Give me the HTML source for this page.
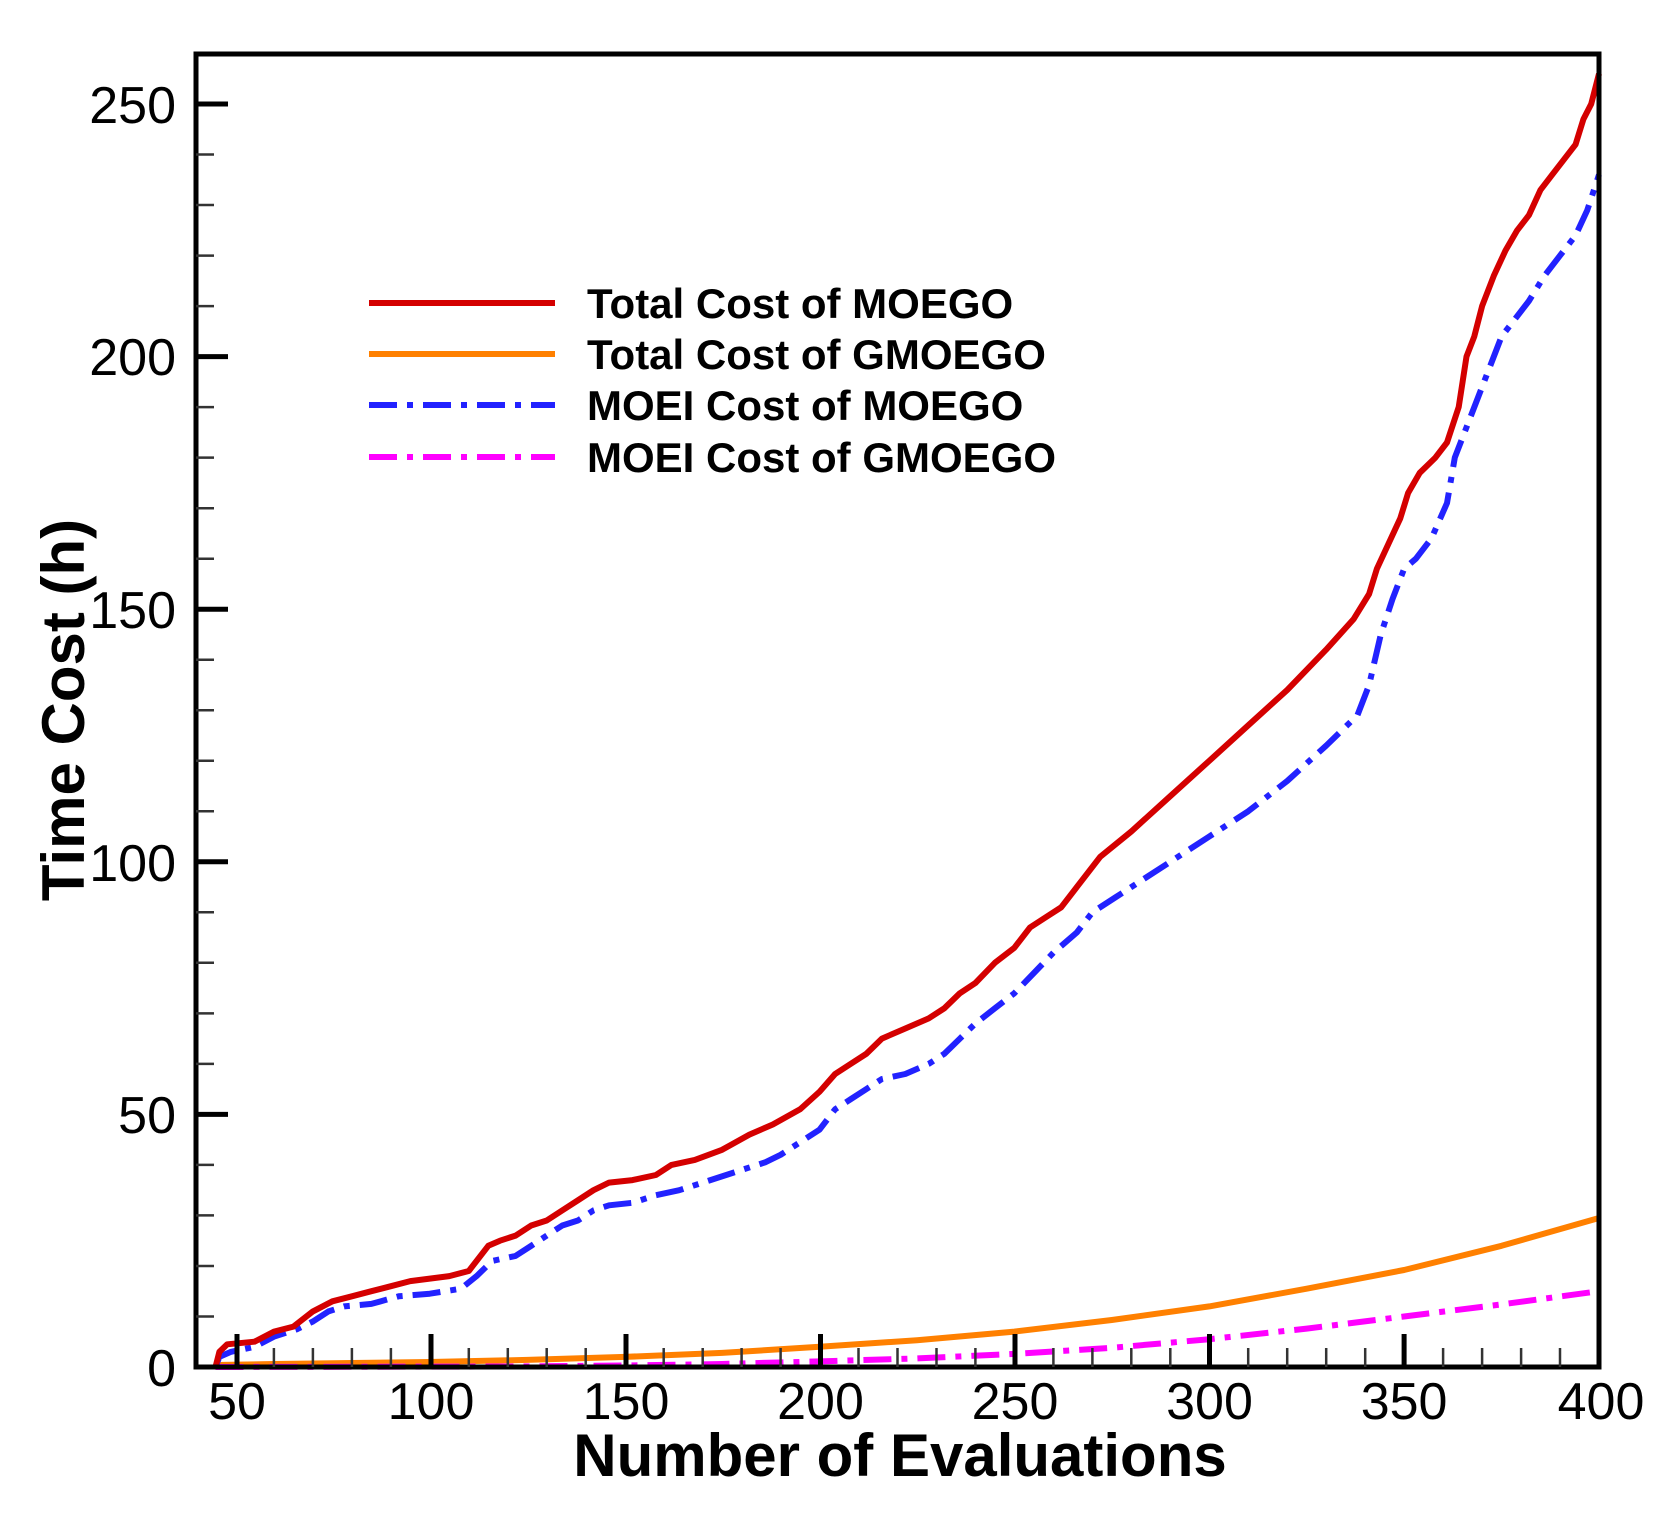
<!DOCTYPE html>
<html><head><meta charset="utf-8"><style>
html,body{margin:0;padding:0;background:#fff}
svg{display:block}
text{font-family:"Liberation Sans",Arial,sans-serif}
</style></head><body>
<svg width="1672" height="1518" viewBox="0 0 1672 1518" xmlns="http://www.w3.org/2000/svg">
<rect width="1672" height="1518" fill="#fff"/>
<g fill="none" stroke-linejoin="round" stroke-width="6">
<path stroke="#ff8000" d="M215.5 1365L273.9 1364L351.9 1363L429.8 1362L527.3 1359.9L624.7 1356.9L722.1 1352.9L819.6 1346.8L917 1340.2L1014.4 1331.6L1111.8 1320L1209.3 1306.4L1306.7 1288.7L1404.1 1270L1501.6 1245.8L1599 1218"/>
<path stroke="#ff00ff" stroke-dasharray="28 10 6 10" d="M215.5 1367L507.8 1366.5L624.7 1365.5L722.1 1364L819.6 1361.4L917 1358.4L1014.4 1353.9L1111.8 1347.8L1209.3 1339.2L1306.7 1328.6L1404.1 1316.5L1501.6 1304.4L1599 1291.2"/>
<path stroke="#2222ff" stroke-dasharray="28 10 6 10" d="M215.5 1367L219.4 1356.9L231.1 1351.8L254.5 1346.8L273.9 1336.7L297.3 1329.1L312.9 1321.5L328.5 1311.4L344.1 1306.4L371.4 1303.9L398.7 1296.3L429.8 1293.7L461 1288.7L476.6 1276.1L492.2 1260.9L515.6 1255.9L531.2 1245.8L546.7 1235.6L562.3 1225.5L577.9 1220.5L593.5 1210.4L609.1 1205.3L632.5 1202.8L655.9 1195.2L679.3 1190.2L710.4 1180.1L741.6 1170L765 1162.4L780.6 1154.8L804 1139.7L819.6 1129.6L835.1 1109.3L850.7 1099.2L866.3 1089.1L881.9 1079L905.3 1074L928.7 1063.9L944.3 1053.8L959.9 1038.6L975.4 1023.5L994.9 1008.3L1014.4 993.2L1033.9 973L1053.4 952.7L1076.8 932.5L1092.4 912.3L1115.7 897.2L1139.1 882L1170.3 861.8L1209.3 836.5L1248.2 811.3L1287.2 781L1326.2 745.6L1357.4 715.3L1369.1 685L1380.8 634.5L1392.5 599.1L1404.1 568.8L1415.9 558.7L1431.4 538.5L1447 503.1L1454.8 457.6L1466.5 427.3L1478.2 397L1489.9 366.7L1501.6 336.4L1517.2 316.2L1528.9 301L1544.4 275.8L1560 255.6L1575.6 235.4L1587.3 210.1L1599 174.7"/>
<path stroke="#d40000" d="M215.5 1367L219.4 1351.8L227.2 1344.3L254.5 1341.7L273.9 1331.6L293.4 1326.6L312.9 1311.4L332.4 1301.3L351.9 1296.3L371.4 1291.2L390.9 1286.2L410.3 1281.1L429.8 1278.6L449.3 1276.1L468.8 1271L488.3 1245.8L500 1240.7L515.6 1235.6L531.2 1225.5L546.7 1220.5L562.3 1210.4L577.9 1200.3L593.5 1190.2L609.1 1182.6L632.5 1180.1L655.9 1175L671.5 1164.9L694.8 1159.9L722.1 1149.8L749.4 1134.6L772.8 1124.5L800.1 1109.3L819.6 1091.7L835.1 1074L850.7 1063.9L866.3 1053.8L881.9 1038.6L905.3 1028.5L928.7 1018.4L944.3 1008.3L959.9 993.2L975.4 983L994.9 962.8L1014.4 947.7L1030 927.5L1045.6 917.4L1061.2 907.3L1076.8 887.1L1100.2 856.8L1131.3 831.5L1170.3 796.1L1209.3 760.8L1248.2 725.4L1287.2 690L1326.2 649.6L1353.5 619.3L1369.1 594L1376.9 568.8L1388.6 543.5L1400.3 518.3L1408.1 493L1419.8 472.8L1435.4 457.6L1447 442.5L1458.7 407.1L1466.5 356.6L1474.3 336.4L1482.1 306.1L1493.8 275.8L1505.5 250.5L1517.2 230.3L1528.9 215.2L1540.5 189.9L1552.2 174.7L1563.9 159.6L1575.6 144.4L1583.4 119.2L1591.2 104L1599 73.7"/>
</g>
<rect x="196" y="54" width="1403" height="1313" fill="none" stroke="#000" stroke-width="5"/>
<path stroke="#000" stroke-width="5" fill="none" d="M196 1114.4H228M196 861.8H228M196 609.2H228M196 356.6H228M196 104H228M237 1367V1334M431 1367V1334M626 1367V1334M820.5 1367V1334M1015 1367V1334M1209.5 1367V1334M1404.1 1367V1334"/>
<path stroke="#333" stroke-width="2.5" fill="none" d="M196 1316.5h18M196 1266h18M196 1215.4h18M196 1164.9h18M196 1063.9h18M196 1013.4h18M196 962.8h18M196 912.3h18M196 811.3h18M196 760.8h18M196 710.2h18M196 659.7h18M196 558.7h18M196 508.2h18M196 457.6h18M196 407.1h18M196 306.1h18M196 255.6h18M196 205h18M196 154.5h18M273.9 1367v-19M312.9 1367v-19M351.9 1367v-19M390.9 1367v-19M468.8 1367v-19M507.8 1367v-19M546.7 1367v-19M585.7 1367v-19M663.7 1367v-19M702.7 1367v-19M741.6 1367v-19M780.6 1367v-19M858.5 1367v-19M897.5 1367v-19M936.5 1367v-19M975.4 1367v-19M1053.4 1367v-19M1092.4 1367v-19M1131.3 1367v-19M1170.3 1367v-19M1248.2 1367v-19M1287.2 1367v-19M1326.2 1367v-19M1365.2 1367v-19M1443.1 1367v-19M1482.1 1367v-19M1521.1 1367v-19M1560 1367v-19"/>
<g font-size="52" text-anchor="end" fill="#000">
<text x="176" y="1386">0</text><text x="176" y="1133">50</text><text x="176" y="881">100</text><text x="176" y="628">150</text><text x="176" y="375">200</text><text x="176" y="123">250</text>
</g>
<g font-size="52" text-anchor="middle" fill="#000">
<text x="237" y="1419">50</text><text x="431" y="1419">100</text><text x="626" y="1419">150</text><text x="820.5" y="1419">200</text><text x="1015" y="1419">250</text><text x="1209.5" y="1419">300</text><text x="1404.1" y="1419">350</text><text x="1601" y="1419">400</text>
</g>
<text x="900" y="1476" text-anchor="middle" font-size="60" font-weight="bold">Number of Evaluations</text>
<text transform="translate(84,710) rotate(-90)" text-anchor="middle" font-size="60" font-weight="bold">Time Cost (h)</text>
<g stroke-width="6">
<line x1="369" y1="303" x2="555" y2="303" stroke="#d40000"/>
<line x1="369" y1="354" x2="555" y2="354" stroke="#ff8000"/>
<line x1="369" y1="405" x2="555" y2="405" stroke="#2222ff" stroke-dasharray="28 10 6 10"/>
<line x1="369" y1="457" x2="555" y2="457" stroke="#ff00ff" stroke-dasharray="28 10 6 10"/>
</g>
<g font-size="42" font-weight="bold" fill="#000">
<text x="587" y="318">Total Cost of MOEGO</text>
<text x="587" y="369">Total Cost of GMOEGO</text>
<text x="587" y="420">MOEI Cost of MOEGO</text>
<text x="587" y="472">MOEI Cost of GMOEGO</text>
</g>
</svg>
</body></html>
